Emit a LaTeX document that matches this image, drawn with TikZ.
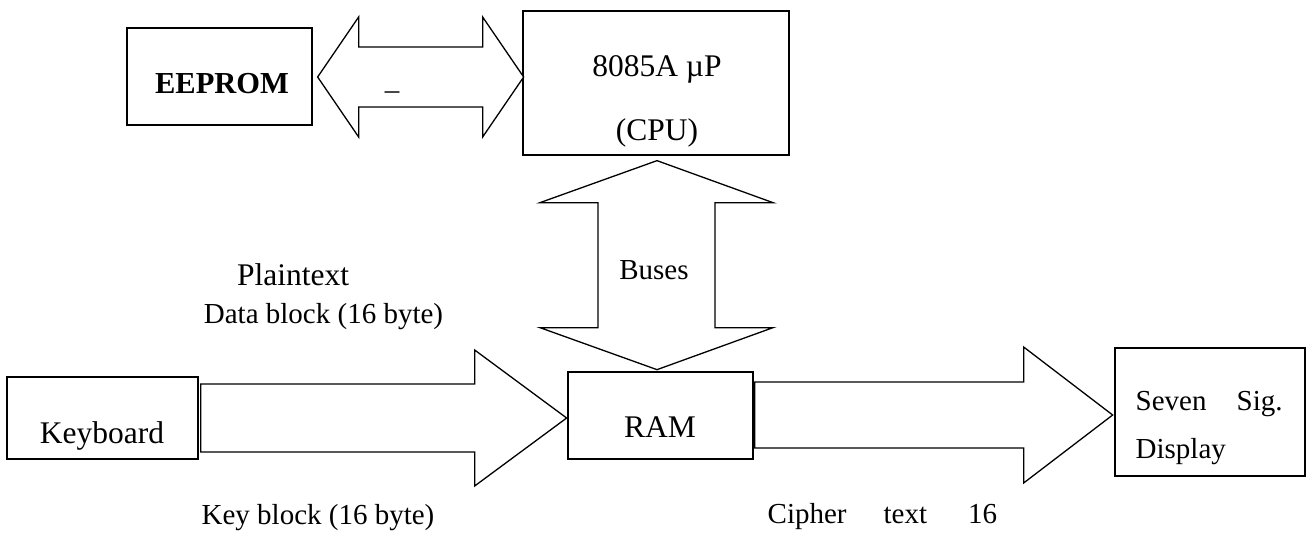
\documentclass[tikz,border=0pt]{standalone}
\usepackage{fontspec}
\setmainfont{Liberation Serif}
\usetikzlibrary{calc}

\begin{document}
\begin{tikzpicture}[x=1pt,y=-1pt,line width=1.3pt,line join=miter]
  \tikzstyle{block}=[rectangle,draw=black,fill=white,inner sep=0pt]
  \tikzstyle{bigarrow}=[draw=black,fill=white]
  \tikzstyle{txt}=[anchor=base,inner sep=0pt,font=\fontsize{31.5}{38}\selectfont]
  \tikzstyle{note}=[anchor=base,inner sep=0pt,font=\fontsize{29}{35}\selectfont]

  \useasboundingbox (0,0) rectangle (1307,535);

  % boxes
  \node[block,minimum width=185pt,minimum height=97pt]  (eeprom) at (219.5,76.5) {};
  \node[block,minimum width=266pt,minimum height=144pt] (cpu)    at (656,83)     {};
  \node[block,minimum width=191pt,minimum height=82pt]  (kbd)    at (102.5,418)  {};
  \node[block,minimum width=185pt,minimum height=87pt]  (ram)    at (660.5,415.5) {};
  \node[block,minimum width=190pt,minimum height=128pt] (disp)   at (1210,412)   {};

  % block arrows
  \draw[bigarrow] (eeprom.east) ++(5,0.5) -- ++(41,-60) -- ++(0,30) -- ++(124,0)
    -- ++(0,-30) -- ++(41,60) -- ++(-41,60) -- ++(0,-30) -- ++(-124,0)
    -- ++(0,30) -- cycle;
  \draw[bigarrow] (cpu.south) ++(1,5) -- ++(116,42) -- ++(-58,0) -- ++(0,125)
    -- ++(58,0) -- ++(-116,42) -- ++(-117,-42) -- ++(58,0) -- ++(0,-125)
    -- ++(-58,0) -- cycle;
  \draw[bigarrow] (kbd.east) ++(2,-34) -- ++(274,0) -- ++(0,-34) -- ++(92,68)
    -- ++(-92,68) -- ++(0,-34) -- ++(-274,0) -- cycle;
  \draw[bigarrow] (ram.east) ++(1,-33.5) -- ++(269,0) -- ++(0,-35) -- ++(89,68)
    -- ++(-89,68) -- ++(0,-35) -- ++(-269,0) -- cycle;

  % texts
  \node[txt,font=\fontsize{30.5}{36}\selectfont\bfseries] (eepromtxt) at (222,94) {EEPROM};
  \node[note] (mark)    at (392,89.5) {\_};
  \node[txt]  (cputxt)  at (657,77)  {8085A µP};
  \node[txt]  (cpuname) at (657,140) {(CPU)};
  \node[note] (buses)   at (654,279) {Buses};
  \node[txt]  (plain)   at (293,285) {Plaintext};
  \node[note] (datablk) at (323.5,323) {Data block (16 byte)};
  \node[txt]  (kbdtxt)  at (102,443) {Keyboard};
  \node[txt]  (ramtxt)  at (660,437) {RAM};
  \node[note] (keyblk)  at (318,524) {Key block (16 byte)};
  \node[note,anchor=base west] (cipher) at (767,523)
    {Cipher\hspace{37pt}text\hspace{41pt}16};
  \node[note,anchor=base west] (seven) at (1135,410) {\makebox[147pt][s]{Seven Sig.}};
  \node[note,anchor=base west] (display) at (1135,458) {Display};
\end{tikzpicture}
\end{document}
